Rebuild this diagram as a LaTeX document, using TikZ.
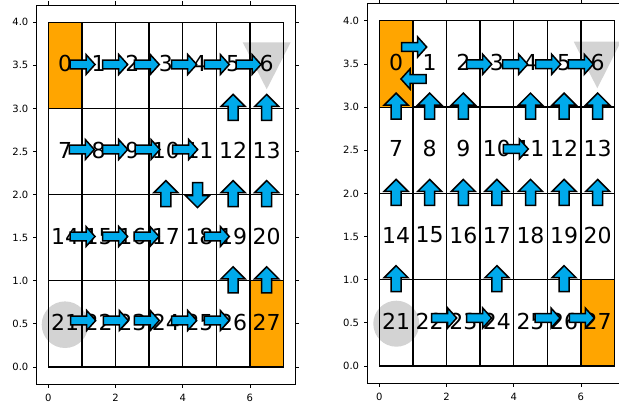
\documentclass[tikz,border=0pt]{standalone}
\usepackage{fontspec}
\setmainfont{DejaVu Sans}
\definecolor{arrblue}{RGB}{0,170,235}
\definecolor{orng}{HTML}{FFA500}
\definecolor{lgray}{HTML}{D3D3D3}
% arrow glyphs (pixel units, y downward)
\newcommand\RA[2]{\filldraw[arrowsty] (#1,{#2-4.3}) -- ({#1+16},{#2-4.3}) -- ({#1+16},{#2-10}) -- ({#1+25},#2) -- ({#1+16},{#2+10}) -- ({#1+16},{#2+4.3}) -- (#1,{#2+4.3}) -- cycle;}
\newcommand\LA[2]{\filldraw[arrowsty] (#1,{#2-4.3}) -- ({#1-16},{#2-4.3}) -- ({#1-16},{#2-10}) -- ({#1-25},#2) -- ({#1-16},{#2+10}) -- ({#1-16},{#2+4.3}) -- (#1,{#2+4.3}) -- cycle;}
\newcommand\UA[2]{\filldraw[arrowsty] ({#1-5},{#2+12}) -- ({#1-5},{#2-2}) -- ({#1-12},{#2-2}) -- (#1,{#2-14}) -- ({#1+12},{#2-2}) -- ({#1+5},{#2-2}) -- ({#1+5},{#2+12}) -- cycle;}
\newcommand\DA[2]{\filldraw[arrowsty] ({#1-5},{#2-12}) -- ({#1-5},{#2+1}) -- ({#1-12},{#2+1}) -- (#1,{#2+13}) -- ({#1+12},{#2+1}) -- ({#1+5},{#2+1}) -- ({#1+5},{#2-12}) -- cycle;}
\begin{document}
\begin{tikzpicture}[x=1pt,y=-1pt,
  gridline/.style={black,line width=1.25pt,line cap=rect},
  spine/.style={black,line width=0.8pt},
  tickmk/.style={black,line width=0.8pt},
  ticklab/.style={font=\fontsize{10}{10}\selectfont,inner sep=0pt},
  cellnum/.style={font=\fontsize{22}{22}\selectfont,inner sep=0pt},
  arrowsty/.style={fill=arrblue,draw=black,line width=1.5pt,line join=miter},
  goal/.style={fill=orng},
  grayshape/.style={fill=lgray}]
\useasboundingbox (0,0) rectangle (619,406);

% ================= LEFT PANEL =================
\draw[spine] (36.5,4.96) rectangle (295.3,384.2);
\foreach \v/\t in {0/0.0,0.5/0.5,1/1.0,1.5/1.5,2/2.0,2.5/2.5,3/3.0,3.5/3.5,4/4.0} {
  \draw[tickmk] (36.5,{367-86.2*\v}) -- ++(-4,0);
  \draw[tickmk] (295.3,{367-86.2*\v}) -- ++(4,0);
  \node[ticklab,anchor=east] (ly\t) at (28.5,{367-86.2*\v}) {\t};
}
\foreach \v in {0,2,4,6} {
  \draw[tickmk] ({48.3+33.6*\v},384.2) -- ++(0,4);
  \draw[tickmk] ({48.3+33.6*\v},4.96) -- ++(0,-4);
  \node[ticklab] (lx\v) at ({48.3+33.6*\v},397.5) {\v};
}
\fill[grayshape] (242.7,42.3) -- (290.7,42.3) -- (266.7,89.3) -- cycle;
\fill[grayshape] (65,324.7) circle[radius=23.3pt];
\foreach \k in {0,...,4} \draw[gridline] (48.3,{22.2+86.2*\k}) -- (283.5,{22.2+86.2*\k});
\fill[goal] (48.3,22.2) rectangle (81.9,108.4);
\fill[goal] (249.9,280.8) rectangle (283.5,367);
\foreach \k in {0,...,7} \draw[gridline] ({48.3+33.6*\k},22.2) -- ({48.3+33.6*\k},367);
\draw[gridline] (48.3,22.2) -- (283.5,22.2) (48.3,367) -- (283.5,367);
\foreach \r in {0,...,3} \foreach \c in {0,...,6} {
  \pgfmathtruncatemacro\n{7*\r+\c}
  \node[cellnum] (L\n) at ({65.1+33.6*\c},{22.2+86.2*(\r+0.5)-1.5}) {\n};
}
\RA{70}{64.5} \RA{102.7}{64.5} \RA{134.3}{64.5} \RA{171.7}{64.5} \RA{204.3}{64.5} \RA{236}{64.5}
\UA{233.1}{108.4} \UA{266.7}{108.4}
\RA{69.3}{149.5} \RA{102.7}{149.5} \RA{135}{149.5} \RA{172.7}{149.5}
\UA{165.9}{194.6} \DA{197.5}{194.6} \UA{233.1}{194.6} \UA{266.7}{194.6}
\RA{70}{236.5} \RA{102.7}{236.5} \RA{134}{236.5} \RA{204.3}{236.5}
\UA{233.1}{280.8} \UA{266.7}{280.8}
\RA{70.7}{320.5} \RA{103.3}{320.5} \RA{134.3}{320.5} \RA{171.7}{320.5} \RA{204.3}{320.5}

% ================= RIGHT PANEL =================
\draw[spine] (630,3.5) -- (367.5,3.5) -- (367.5,383.3) -- (630,383.3);
\foreach \v/\t in {0/0.0,0.5/0.5,1/1.0,1.5/1.5,2/2.0,2.5/2.5,3/3.0,3.5/3.5,4/4.0} {
  \draw[tickmk] (367.5,{366-86.3*\v}) -- ++(-4,0);
  \node[ticklab,anchor=east] (ry\t) at (359.3,{366-86.3*\v}) {\t};
}
\foreach \v in {0,2,4,6} {
  \draw[tickmk] ({379.3+33.6*\v},383.3) -- ++(0,4);
  \draw[tickmk] ({379.3+33.6*\v},3.5) -- ++(0,-4);
  \node[ticklab] (rx\v) at ({379.3+33.6*\v},396.5) {\v};
}
\fill[grayshape] (573.8,41.7) -- (620.8,41.7) -- (597.3,88.3) -- cycle;
\fill[grayshape] (396.3,323.7) circle[radius=23pt];
\foreach \k in {0,...,4} \draw[gridline] (379.3,{20.8+86.3*\k}) -- (614.5,{20.8+86.3*\k});
\fill[goal] (379.3,20.8) rectangle (412.9,107.1);
\fill[goal] (580.9,279.7) rectangle (614.5,366);
\foreach \k in {0,...,7} \draw[gridline] ({379.3+33.6*\k},20.8) -- ({379.3+33.6*\k},366);
\draw[gridline] (379.3,20.8) -- (614.5,20.8) (379.3,366) -- (614.5,366);
\foreach \r in {0,...,3} \foreach \c in {0,...,6} {
  \pgfmathtruncatemacro\n{7*\r+\c}
  \node[cellnum] (R\n) at ({396.1+33.6*\c},{20.8+86.3*(\r+0.5)-1.5}) {\n};
}
\RA{401.7}{47} \LA{426}{79}
\RA{466.7}{64.3} \RA{502.7}{64.3} \RA{535.7}{64.3} \RA{568.3}{64.3}
\foreach \x in {396.1,429.7,463.3,530.5,564.1,597.7} {\UA{\x}{107.1}}
\RA{503.3}{149}
\foreach \x in {396.1,429.7,463.3,496.9,530.5,564.1,597.7} {\UA{\x}{193.4}}
\foreach \x in {396.1,496.9,564.1} {\UA{\x}{279.7}}
\RA{431.7}{318} \RA{466.7}{318} \RA{535}{318} \RA{569.3}{318}
\end{tikzpicture}
\end{document}
